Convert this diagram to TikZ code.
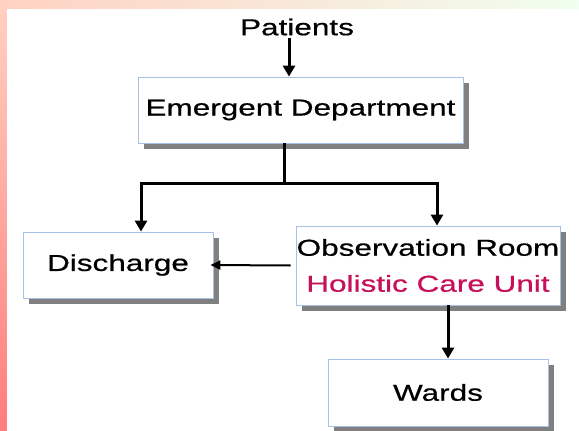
\documentclass[tikz,border=0pt]{standalone}
\usepackage{fontspec}
\setmainfont{Liberation Sans}[FakeStretch=1.37,FakeBold=0.6]
\usetikzlibrary{arrows.meta,shadows}
\definecolor{hcu}{HTML}{C8105A}
\definecolor{edge}{HTML}{A8C0E8}
\begin{document}
\begin{tikzpicture}[x=1pt,y=-1pt,
		box/.style={draw=edge,line width=0.8pt,fill=white,align=center,inner sep=0pt,
			drop shadow={shadow xshift=6pt,shadow yshift=-6pt,fill=black!50,opacity=1}},
		arr/.style={line width=3pt,-{Triangle[length=11pt,width=12pt]}},
		font=\fontsize{23}{36}\selectfont]
	\useasboundingbox (0,0) rectangle (579,431);
	\shade[left color=orange!20!pink!60,right color=green!6] (0,0) rectangle (579,9);
	\shade[top color=orange!20!pink!60,middle color=pink!25,bottom color=red!35!pink] (0,0) rectangle (7,431);
	\fill[white] (7,9) rectangle (579,431);
		\node[inner sep=2pt] (Pat) at (297,27) {Patients};
		\node[box,minimum width=325pt,minimum height=66pt] (ED) at (300.5,110) {Emergent Department};
		\node[box,minimum width=190pt,minimum height=66pt] (Dis) at (118,265) {Discharge};
		\node[box,minimum width=264pt,minimum height=79pt] (Obs) at (428,265.5) {Observation Room\\\textcolor{hcu}{Holistic Care Unit}};
		\node[box,minimum width=220pt,minimum height=67pt] (Ward) at (438,392.5) {Wards};
		\coordinate (split) at (284,183);
		\draw[arr] ([xshift=-8pt]Pat.south) -- ([xshift=-11.5pt]ED.north);
		\draw[line width=3pt] (ED.south -| split) -- (split);
		\draw[arr] ([xshift=1.5pt]split) -| ([xshift=23pt]Dis.north);
		\draw[arr] ([xshift=-1.5pt]split) -| ([xshift=9pt]Obs.north);
		\draw[line width=2pt,-{Triangle[length=10pt,width=9pt]}] ([xshift=-5pt]Obs.west) -- ([xshift=-3pt]Dis.east);
		\draw[arr] ([xshift=20pt]Obs.south) -- ([xshift=10pt]Ward.north);
\end{tikzpicture}
\end{document}
